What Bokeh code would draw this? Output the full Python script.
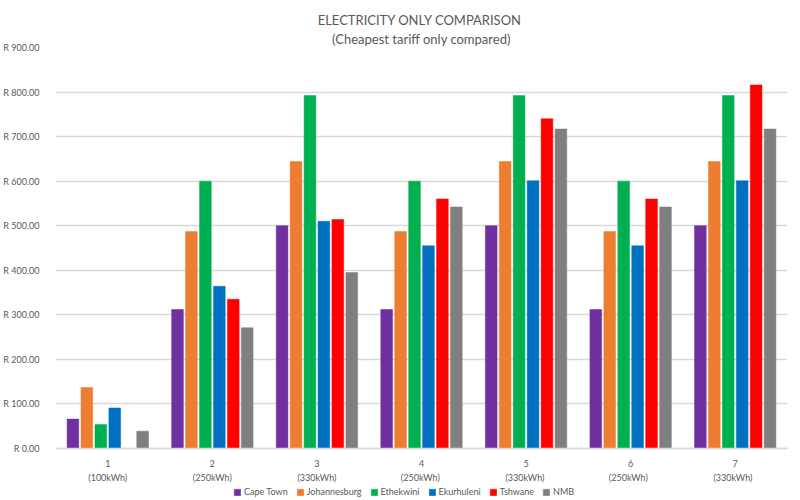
from bokeh.plotting import figure
from bokeh.models import (ColumnDataSource, Legend, LegendItem, Title, FixedTicker,
                          PrintfTickFormatter, Range1d, FactorRange, CategoricalAxis)
from bokeh.transform import dodge
from bokeh.embed import file_html
from bokeh.resources import INLINE

groups = ["1", "2", "3", "4", "5", "6", "7"]
group_sub = ["(100kWh)", "(250kWh)", "(330kWh)", "(250kWh)", "(330kWh)", "(250kWh)", "(330kWh)"]
series = ["Cape Town", "Johannesburg", "Ethekwini", "Ekurhuleni", "Tshwane", "NMB"]
cape_town = [66, 312, 500, 312, 500, 312, 500]
johannesburg = [137, 487, 644, 487, 644, 487, 644]
ethekwini = [54, 600, 792, 600, 792, 600, 792]
ekurhuleni = [91, 364, 510, 455, 601, 455, 601]
tshwane = [0, 335, 514, 560, 740, 560, 816]
nmb = [39, 271, 395, 542, 717, 542, 717]
y_ticks = [0, 100, 200, 300, 400, 500, 600, 700, 800, 900]

colors = ["#7030A0", "#ED7D31", "#00B050", "#0070C0", "#FF0000", "#7F7F7F"]
values = [cape_town, johannesburg, ethekwini, ekurhuleni, tshwane, nmb]
keys = ["ct", "jo", "et", "ek", "ts", "nm"]

# second-line labels: repeated ones get invisible trailing spaces to stay unique factors
seen = {}
sub_factors = []
for s in group_sub:
    n = seen.get(s, 0)
    seen[s] = n + 1
    sub_factors.append(s + " " * n)

data = {"g": groups}
for k, v in zip(keys, values):
    data[k] = v
src = ColumnDataSource(data)

FONT = "Lato"
GRAY = "#595959"

# the frame reaches the bottom of the canvas; the room below zero holds the
# category labels and the legend
p = figure(width=800, height=500, x_range=FactorRange(*groups), y_range=Range1d(-116.7, 900),
           output_backend="svg", toolbar_location=None,
           min_border_left=53, min_border_right=13, min_border_top=47, min_border_bottom=0)
p.extra_x_ranges = {"sub": FactorRange(*sub_factors)}
p.title = None
p.outline_line_color = None
p.background_fill_color = "white"
p.border_fill_color = "white"

sub = Title(text="(Cheapest tariff only compared)", align="center", text_font=FONT,
            text_font_size="13px", text_font_style="normal", text_color=GRAY,
            standoff=2, offset=0)
main = Title(text="ELECTRICITY  ONLY COMPARISON", align="center", text_font=FONT,
             text_font_size="13px", text_font_style="normal", text_color=GRAY,
             standoff=0, offset=0)
p.add_layout(sub, "above")
p.add_layout(main, "above")

step = 0.1333
renderers = []
for i, (k, c) in enumerate(zip(keys, colors)):
    off = (i - 2.5) * step
    r = p.vbar(x=dodge("g", off, range=p.x_range), top=k, bottom=0, width=0.112, source=src,
               fill_color=c, line_color=c, line_width=0.5)
    renderers.append(r)

p.yaxis.ticker = FixedTicker(ticks=y_ticks)
p.yaxis.formatter = PrintfTickFormatter(format="R %.2f")
p.yaxis.axis_line_color = None
p.yaxis.major_tick_line_color = None
p.yaxis.minor_tick_line_color = None
p.yaxis.major_label_text_font = FONT
p.yaxis.major_label_text_font_size = "9px"
p.yaxis.major_label_text_color = GRAY
p.yaxis.major_label_standoff = 10

ax = p.xaxis[0]
ax.fixed_location = 0
ax.axis_line_color = "#d9d9d9"
ax.axis_line_width = 1.5
ax.major_tick_line_color = None
ax.minor_tick_line_color = None
ax.major_label_text_font = FONT
ax.major_label_text_font_size = "9px"
ax.major_label_text_color = GRAY
ax.major_label_standoff = 5

ax2 = CategoricalAxis(x_range_name="sub", fixed_location=0, axis_line_color=None,
                      major_tick_line_color=None, minor_tick_line_color=None,
                      major_label_text_font=FONT, major_label_text_font_size="9px",
                      major_label_text_color=GRAY, major_label_standoff=17)
p.add_layout(ax2, "below")

p.xgrid.grid_line_color = None
p.ygrid.grid_line_color = "#d9d9d9"
p.ygrid.grid_line_width = 1.5

legend = Legend(items=[LegendItem(label=s, renderers=[r]) for s, r in zip(series, renderers)],
                orientation="horizontal", location=(178, 3),
                label_text_font=FONT, label_text_font_size="9px", label_text_color=GRAY,
                glyph_width=8, glyph_height=8, label_standoff=3, spacing=8,
                padding=0, margin=0, border_line_color=None, background_fill_alpha=0,
                label_height=9)
p.add_layout(legend)

open("out.html", "w").write(file_html(p, INLINE))
